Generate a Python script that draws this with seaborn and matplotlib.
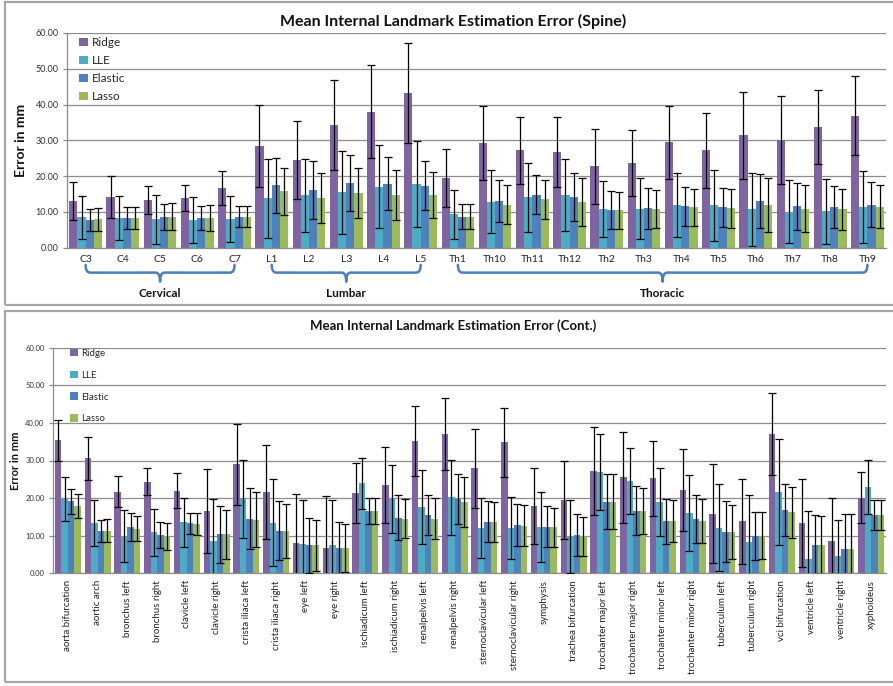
import numpy as np
import pandas as pd
import matplotlib
matplotlib.use("Agg")
import matplotlib.pyplot as plt
import seaborn as sns
from matplotlib.patches import Rectangle, PathPatch
from matplotlib.path import Path
from matplotlib.transforms import blended_transform_factory

# ---------------------------------------------------------------- data
methods = ["Ridge", "LLE", "Elastic", "Lasso"]
colors = ["#8064A2", "#4BACC6", "#4F81BD", "#9BBB59"]

spine_levels = ["C3", "C4", "C5", "C6", "C7", "L1", "L2", "L3", "L4", "L5",
                "Th1", "Th10", "Th11", "Th12", "Th2", "Th3", "Th4", "Th5",
                "Th6", "Th7", "Th8", "Th9"]
spine_ridge = [13.1, 14.1, 13.3, 13.9, 16.6, 28.4, 24.4, 34.2, 38.0, 43.2, 19.4,
               29.2, 27.2, 26.8, 22.8, 23.6, 29.4, 27.2, 31.4, 30.1, 33.7, 36.9]
spine_ridge_sd = [5.4, 5.8, 4.0, 3.6, 4.7, 11.4, 10.9, 12.6, 13.0, 13.9, 8.1,
                  10.3, 9.4, 9.7, 10.5, 9.2, 10.3, 10.5, 12.1, 12.3, 10.3, 11.1]
spine_lle = [8.5, 8.3, 7.9, 7.7, 8.0, 13.8, 14.7, 15.5, 17.0, 17.8, 9.3,
             12.9, 14.1, 14.7, 10.9, 10.9, 12.0, 11.8, 10.8, 10.1, 10.2, 11.4]
spine_lle_sd = [6.0, 6.2, 6.9, 6.4, 6.5, 11.0, 10.2, 11.6, 11.6, 12.1, 6.8,
                8.9, 9.7, 10.0, 7.8, 8.5, 9.0, 9.8, 10.2, 8.7, 9.1, 10.1]
spine_elastic = [7.8, 8.2, 8.6, 8.3, 8.7, 17.4, 16.0, 18.1, 17.9, 17.3, 8.7,
                 13.0, 14.8, 14.1, 10.5, 11.0, 11.6, 11.3, 13.1, 11.6, 11.3, 12.0]
spine_elastic_sd = [3.1, 3.1, 3.7, 3.4, 2.9, 7.6, 8.1, 7.9, 7.4, 6.9, 3.6,
                    5.8, 5.5, 6.7, 5.4, 5.8, 5.4, 5.5, 7.5, 6.6, 5.9, 6.3]
spine_lasso = [7.9, 8.3, 8.7, 8.3, 8.7, 15.8, 13.9, 15.3, 14.7, 14.8, 8.7,
               12.0, 13.5, 12.8, 10.5, 10.8, 11.3, 11.0, 12.0, 10.9, 10.7, 11.4]
spine_lasso_sd = [3.1, 3.2, 3.7, 3.6, 2.9, 6.6, 7.1, 7.1, 7.0, 6.4, 3.5,
                  5.4, 5.5, 6.6, 5.2, 5.4, 5.1, 5.5, 7.6, 6.5, 5.7, 6.0]

# vertebra groups: (name, first level, last level)
spine_groups = [("Cervical", "C3", "C7"), ("Lumbar", "L1", "L5"),
                ("Thoracic", "Th1", "Th9")]

organ_landmarks = ["aorta bifurcation", "aortic arch", "bronchus left",
                   "bronchus right", "clavicle left", "clavicle right",
                   "crista iliaca left", "crista iliaca right", "eye left",
                   "eye right", "ischiadicum left", "ischiadicum right",
                   "renalpelvis left", "renalpelvis right",
                   "sternoclavicular left", "sternoclavicular right",
                   "symphysis", "trachea bifurcation", "trochanter major left",
                   "trochanter major right", "trochanter minor left",
                   "trochanter minor right", "tuberculum left",
                   "tuberculum right", "vci bifurcation", "ventricle left",
                   "ventricle right", "xyphoideus"]
organ_ridge = [35.4, 30.6, 21.7, 24.3, 22.0, 16.6, 29.0, 21.6, 8.0, 6.7, 21.4,
               23.5, 35.2, 37.0, 28.0, 34.8, 17.9, 19.5, 27.2, 25.6, 25.3, 22.2,
               15.9, 13.8, 37.1, 13.4, 8.6, 20.1]
organ_ridge_sd = [5.5, 5.7, 4.1, 3.6, 4.7, 11.2, 10.8, 12.6, 13.0, 13.8, 8.0,
                  10.1, 9.4, 9.6, 10.5, 9.1, 10.1, 10.4, 11.8, 12.1, 10.0, 10.9,
                  13.2, 11.2, 10.9, 11.8, 11.4, 6.8]
organ_lle = [19.8, 13.4, 9.9, 10.9, 13.6, 8.7, 19.8, 13.5, 7.8, 7.5, 23.9, 19.8,
             17.7, 20.2, 12.1, 12.1, 12.3, 9.8, 27.0, 24.6, 19.0, 16.0, 12.1,
             8.2, 21.7, 3.8, 4.5, 23.0]
organ_lle_sd = [5.9, 6.2, 6.9, 6.3, 6.5, 11.0, 10.3, 11.6, 11.6, 12.0, 6.7,
                9.0, 9.8, 9.9, 7.9, 8.3, 9.2, 9.8, 10.1, 8.7, 9.1, 10.2, 11.6,
                12.5, 14.1, 12.9, 9.7, 7.2]
organ_elastic = [19.1, 11.3, 12.3, 10.2, 13.3, 10.4, 14.5, 11.3, 7.4, 6.8, 16.5,
                 14.8, 15.5, 19.8, 13.7, 12.8, 12.4, 10.1, 19.0, 16.7, 13.8,
                 14.4, 11.0, 10.0, 16.8, 7.6, 6.5, 15.5]
organ_elastic_sd = [3.2, 3.0, 3.7, 3.5, 2.8, 7.6, 8.1, 7.8, 7.3, 6.9, 3.4, 5.9,
                    5.2, 6.7, 5.4, 5.6, 5.4, 5.6, 7.3, 6.6, 5.9, 6.3, 8.1, 6.4,
                    6.9, 7.9, 9.2, 3.9]
organ_lasso = [18.0, 11.3, 11.9, 9.9, 13.2, 10.4, 14.2, 11.3, 7.4, 6.8, 16.5,
               14.5, 14.5, 19.0, 13.7, 12.7, 12.3, 9.8, 19.0, 16.6, 13.9, 13.9,
               11.0, 10.0, 16.2, 7.6, 6.5, 15.5]
organ_lasso_sd = [3.2, 3.1, 3.4, 3.6, 2.9, 6.5, 7.3, 7.1, 6.8, 6.4, 3.4, 5.2,
                  5.4, 6.6, 5.3, 5.4, 5.2, 5.3, 7.3, 6.2, 5.5, 5.9, 7.2, 6.3,
                  6.8, 7.7, 9.2, 3.9]

y_ticks = [0, 10, 20, 30, 40, 50, 60]

# ---------------------------------------------------------------- style
sns.set_theme(style="white")
plt.rcParams["font.family"] = ["Lato", "DejaVu Sans"]

W, H = 893, 686
fig = plt.figure(figsize=(W / 100, H / 100), dpi=100)
fig.patch.set_facecolor("white")

GRID = "#8C8C8C"
FRAME = "#A6A6A6"
BRACE = "#4A7EBF"


def px_axes(left, top, right, bottom):
    """Create axes from pixel edges measured from the top-left corner."""
    return fig.add_axes([left / W, 1 - bottom / H, (right - left) / W,
                         (bottom - top) / H])


def long_table(levels, values):
    rows = []
    for m, vals in zip(methods, values):
        for lvl, v in zip(levels, vals):
            rows.append({"landmark": lvl, "method": m, "error": v})
    return pd.DataFrame(rows)


def draw_panel(ax, levels, values, sds, tick_fs, ytick_fs, rotate):
    df = long_table(levels, values)
    sns.barplot(data=df, x="landmark", y="error", hue="method",
                order=levels, hue_order=methods, palette=colors,
                saturation=1, width=0.88, errorbar=None, legend=False,
                linewidth=0, ax=ax)
    # symmetric error bars on top of every bar
    for cont, m_vals, m_sd in zip(ax.containers, values, sds):
        xs, ys, es = [], [], []
        for patch in cont:
            idx = int(round(patch.get_x() + patch.get_width() / 2))
            xs.append(patch.get_x() + patch.get_width() / 2)
            ys.append(m_vals[idx])
            es.append(m_sd[idx])
        ax.errorbar(xs, ys, yerr=es, fmt="none", ecolor="black",
                    elinewidth=0.9, capsize=2.6, capthick=0.9, zorder=4)

    n = len(levels)
    ax.set_xlim(-0.5, n - 0.5)
    ax.set_ylim(0, 60)
    ax.set_yticks(y_ticks)
    ax.set_yticklabels([f"{t:.2f}" for t in y_ticks], fontsize=ytick_fs,
                       color="#333333")
    ax.set_xticks(np.arange(n))
    ax.set_xticklabels(levels, fontsize=tick_fs, color="#222222",
                       rotation=90 if rotate else 0)
    ax.set_xticks(np.arange(-0.5, n), minor=True)
    ax.tick_params(axis="x", which="major", length=0, pad=5)
    ax.tick_params(axis="x", which="minor", length=4, color=GRID, width=0.9,
                   direction="out")
    ax.tick_params(axis="y", length=3, color=GRID, width=0.9, pad=3,
                   left=True)
    ax.yaxis.grid(True, color=GRID, lw=0.9)
    ax.xaxis.grid(False)
    ax.set_axisbelow(True)
    for side in ("top", "right"):
        ax.spines[side].set_visible(False)
    for side in ("left", "bottom"):
        ax.spines[side].set_color(GRID)
        ax.spines[side].set_linewidth(0.9)
    ax.set_xlabel("")


# ---------------------------------------------------------------- panel frames
fig.add_artist(Rectangle((5 / W, 1 - 305 / H), 2, (305 - 2) / H,
                         transform=fig.transFigure, fill=False,
                         edgecolor=FRAME, lw=1.6))
fig.add_artist(Rectangle((5 / W, 1 - 682 / H), 2, (682 - 311) / H,
                         transform=fig.transFigure, fill=False,
                         edgecolor=FRAME, lw=1.6))

# ---------------------------------------------------------------- spine chart
ax1 = px_axes(67, 33, 886, 247.7)
draw_panel(ax1, spine_levels,
           [spine_ridge, spine_lle, spine_elastic, spine_lasso],
           [spine_ridge_sd, spine_lle_sd, spine_elastic_sd, spine_lasso_sd],
           tick_fs=7.5, ytick_fs=6.5, rotate=False)
ax1.set_ylabel("Error in mm", fontsize=10, fontweight="bold", color="#111111")
ax1.yaxis.set_label_coords(-0.049, 0.5)
fig.text(453 / W, 1 - 21 / H, "Mean Internal Landmark Estimation Error (Spine)",
         ha="center", va="center", fontsize=11.5, fontweight="bold",
         color="#111111")

handles = [Rectangle((0, 0), 1, 1, facecolor=c, edgecolor="none")
           for c in colors]
ax1.legend(handles, methods, loc="upper left",
           bbox_to_anchor=(79 / W, 1 - 37 / H), bbox_transform=fig.transFigure,
           frameon=False, fontsize=8.5, handlelength=0.75, handleheight=0.75,
           handletextpad=0.35, labelspacing=0.6, borderpad=0,
           borderaxespad=0)

# curly braces below the vertebra labels
trans = blended_transform_factory(ax1.transData, ax1.transAxes)
y_top, y_mid, y_tip = -0.080, -0.116, -0.158
r = 0.12
for name, first, last in spine_groups:
    x0 = spine_levels.index(first)
    x1 = spine_levels.index(last)
    xm = (x0 + x1) / 2
    verts = [(x0, y_top), (x0, y_mid), (x0 + r, y_mid),
             (xm - r, y_mid), (xm, y_mid), (xm, y_tip),
             (xm, y_mid), (xm + r, y_mid),
             (x1 - r, y_mid), (x1, y_mid), (x1, y_top)]
    codes = [Path.MOVETO, Path.CURVE3, Path.CURVE3,
             Path.LINETO, Path.CURVE3, Path.CURVE3,
             Path.CURVE3, Path.CURVE3,
             Path.LINETO, Path.CURVE3, Path.CURVE3]
    ax1.add_patch(PathPatch(Path(verts, codes), transform=trans, fill=False,
                            edgecolor=BRACE, lw=1.8, clip_on=False,
                            capstyle="round", joinstyle="round"))
    ax1.text(xm, -0.212, name, transform=trans, ha="center", va="center",
             fontsize=8.5, fontweight="bold", color="#111111")

# ---------------------------------------------------------------- other landmarks
ax2 = px_axes(53, 347.7, 886, 573.3)
draw_panel(ax2, organ_landmarks,
           [organ_ridge, organ_lle, organ_elastic, organ_lasso],
           [organ_ridge_sd, organ_lle_sd, organ_elastic_sd, organ_lasso_sd],
           tick_fs=7, ytick_fs=5.5, rotate=True)
ax2.set_ylabel("Error in mm", fontsize=8, fontweight="bold", color="#111111")
ax2.yaxis.set_label_coords(-0.038, 0.5)
fig.text(453 / W, 1 - 326 / H, "Mean Internal Landmark Estimation Error (Cont.)",
         ha="center", va="center", fontsize=9.5, fontweight="bold",
         color="#111111")
ax2.legend(handles, methods, loc="upper left",
           bbox_to_anchor=(70 / W, 1 - 349 / H), bbox_transform=fig.transFigure,
           frameon=False, fontsize=7, handlelength=0.8, handleheight=0.8,
           handletextpad=0.3, labelspacing=1.3, borderpad=0, borderaxespad=0)

fig.savefig("out.png", dpi=100, facecolor="white")
